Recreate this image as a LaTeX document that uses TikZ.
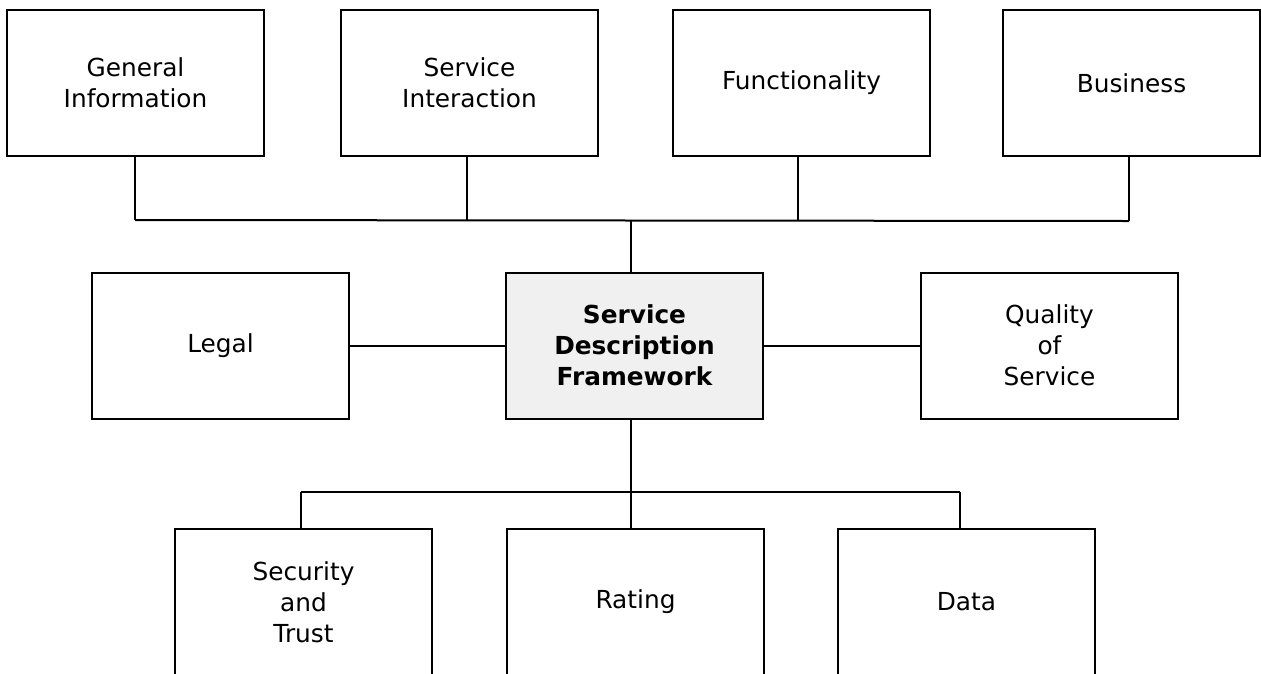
\documentclass[tikz,border=0pt]{standalone}
\usepackage{fontspec}
\setmainfont{DejaVu Sans}
\usetikzlibrary{calc}
\begin{document}
\begin{tikzpicture}[x=1pt,y=-1pt,
  box/.style={draw=black, line width=2pt, fill=white, minimum width=257pt,
    minimum height=146pt, inner sep=0pt, align=center,
    font=\fontsize{24.8}{31}\selectfont},
  core/.style={box, fill=black!6, font=\fontsize{24.8}{31}\selectfont\bfseries},
  link/.style={line width=2pt},
  thinlink/.style={line width=1.4pt}]
\useasboundingbox (0,0) rectangle (1261,673);

% top row
\node[box] (gen) at (135.5,83) {General\\Information};
\node[box] (si)  at (469.5,83) {Service\\Interaction};
\node[box] (fun) at (801.5,83) {Functionality};
\node[box] (bus) at (1131.5,83) {Business};

% middle row
\node[box]  (legal) at (220.5,345.5) {Legal};
\node[core] (sdf)   at (634.5,345.5) {Service\\Description\\Framework};
\node[box]  (qos)   at (1049.5,345.5) {Quality\\of\\Service};

% bottom row
\node[box] (sec)  at (303.5,602) {Security\\and\\Trust};
\node[box] (rat)  at (635.5,602) {Rating};
\node[box] (data) at (966.5,602) {Data};

% upper bus joining the top row to the framework
\coordinate (tgen) at ($(gen.south)+(-0.5,63)$);
\coordinate (tsi)  at ($(si.south)+(-3,63)$);
\coordinate (tfun) at ($(fun.south)+(-3.5,63)$);
\coordinate (tbus) at ($(bus.south)+(-2.5,64)$);
\coordinate (tsdf) at ($(sdf.north)+(-3.5,-52)$);
\draw[link] (tgen) -- (tbus);
\draw[link] ($(gen.south)+(-0.5,0)$) -- (tgen);
\draw[link] ($(si.south)+(-3,0)$) -- (tsi);
\draw[link] ($(fun.south)+(-3.5,0)$) -- (tfun);
\draw[link] ($(bus.south)+(-2.5,0)$) -- (tbus);
\draw[link] (tsdf) -- ($(sdf.north)+(-3.5,0)$);

% side links
\draw[link] (legal.east) -- (sdf.west);
\draw[link] (sdf.east) -- (qos.west);

% lower bus joining the framework to the bottom row
\coordinate (bsdf) at ($(sdf.south)+(-3.5,0)$);
\coordinate (bsec) at ($(sec.north)+(-2.5,-36)$);
\coordinate (bdat) at ($(data.north)+(-6.5,-36)$);
\draw[link, line width=2.4pt] (bsdf) -- (bsdf |- rat.north);
\draw[thinlink] (bsec) -- (bdat);
\draw[thinlink] (bsec) -- ($(sec.north)+(-2.5,0)$);
\draw[thinlink] (bdat) -- ($(data.north)+(-6.5,0)$);
\end{tikzpicture}
\end{document}
